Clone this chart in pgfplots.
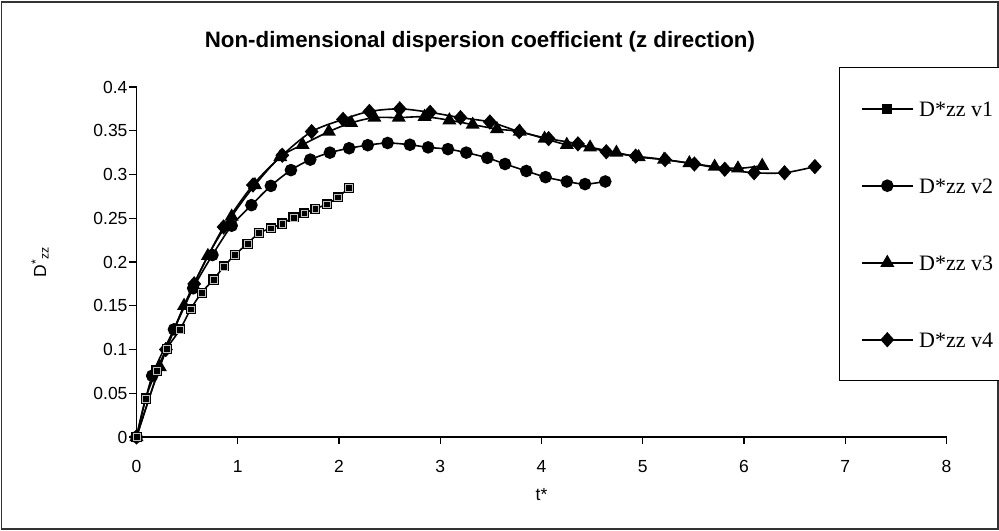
\documentclass[border=0pt]{standalone}
\usepackage{pgfplots}
\pgfplotsset{compat=1.18}
\usepackage{fontspec}
\setmainfont{Liberation Sans}
\newfontfamily\seriffont{Liberation Serif}

\pgfplotstableread{
x y
0 0
0.09 0.044
0.198 0.076
0.30 0.101
0.43 0.123
0.535 0.146
0.644 0.165
0.76 0.180
0.865 0.195
0.97 0.208
1.096 0.221
1.21 0.233
1.327 0.2385
1.44 0.244
1.55 0.251
1.656 0.2556
1.765 0.261
1.88 0.266
1.99 0.274
2.10 0.285
}\vone

\pgfplotstableread{
x y
0 0
0.155 0.070
0.37 0.123
0.56 0.170
0.75 0.208
0.94 0.2415
1.135 0.265
1.327 0.287
1.525 0.305
1.716 0.317
1.91 0.325
2.10 0.330
2.284 0.3335
2.48 0.336
2.70 0.334
2.88 0.331
3.076 0.329
3.257 0.325
3.465 0.319
3.64 0.312
3.85 0.304
4.04 0.297
4.25 0.292
4.43 0.289
4.63 0.292
}\vtwo

\pgfplotstableread{
x y
0 0
0.23 0.080
0.47 0.150
0.705 0.207
0.94 0.252
1.17 0.288
1.42 0.320
1.64 0.334
1.90 0.349
2.12 0.359
2.35 0.365
2.59 0.365
2.845 0.366
3.09 0.362
3.32 0.357
3.56 0.352
3.785 0.349
4.03 0.341
4.25 0.334
4.48 0.331
4.74 0.325
4.96 0.320
5.21 0.317
5.46 0.313
5.71 0.309
5.94 0.307
6.18 0.310
}\vthree

\pgfplotstableread{
x y
0 0
0.29 0.100
0.57 0.175
0.86 0.240
1.15 0.288
1.44 0.322
1.73 0.349
2.04 0.363
2.30 0.372
2.60 0.375
2.90 0.371
3.20 0.365
3.49 0.360
3.78 0.349
4.07 0.341
4.36 0.335
4.64 0.326
4.93 0.321
5.22 0.317
5.51 0.312
5.81 0.306
6.10 0.302
6.40 0.302
6.70 0.309
}\vfour

\begin{document}
\begin{tikzpicture}
\path[use as bounding box] (0,0) rectangle (999bp,531bp);
\draw[line width=1.2bp, black!80] (1.5bp,2bp) rectangle (998bp,529bp);
\begin{axis}[
  at={(136.5bp,94bp)}, anchor=south west,
  scale only axis, width=810bp, height=350bp,
  xmin=0, xmax=8, ymin=0, ymax=0.4,
  clip=false,
  axis x line*=bottom, axis y line*=left,
  axis line style={line width=1.2bp, black},
  xtick={0,1,2,3,4,5,6,7,8},
  xticklabels={0,1,2,3,4,5,6,7,8},
  ytick={0,0.05,0.1,0.15,0.2,0.25,0.3,0.35,0.4},
  yticklabels={0,0.05,0.1,0.15,0.2,0.25,0.3,0.35,0.4},
  tick align=outside, major tick length=7bp,
  tick style={line width=1.2bp, black},
  ticklabel style={font=\fontsize{17.5bp}{20bp}\selectfont},
  xticklabel style={yshift=-13bp},
  yticklabel style={xshift=1.5bp},
  /pgf/number format/assume math mode=true,
  title={Non-dimensional dispersion coefficient (z direction)},
  title style={font=\bfseries\fontsize{22.3bp}{26bp}\selectfont, at={(axis description cs:0.424,1.112)}, anchor=center},
  xlabel={t*},
  xlabel style={font=\fontsize{17.5bp}{20bp}\selectfont, at={(axis description cs:0.5,-0.1657)}, anchor=center},
  ylabel={D\textsuperscript{*}\textsubscript{zz}},
  ylabel style={font=\fontsize{17.5bp}{20bp}\selectfont, at={(axis description cs:-0.119,0.5)}, anchor=center},
  legend image code/.code={\draw[mark repeat=2,mark phase=2,#1] plot coordinates {(0bp,0bp) (25bp,0bp) (50bp,0bp)};},
  legend style={at={(axis description cs:0.8673,1.0571)}, anchor=north west, draw=black, line width=1bp, fill=white,
    inner xsep=22bp, inner ysep=32.5bp, row sep=59.6bp, column sep=6bp,
    nodes={inner sep=0pt, text height=16bp, text depth=1.4bp, font=\seriffont\fontsize{22bp}{26bp}\selectfont}},
  legend cell align=left,
  every axis plot/.append style={black, line width=1.6bp, smooth, tension=0.5},
]
\addplot[mark=square*, mark size=4.6bp, mark options={solid, fill=black, draw=black, line width=1bp}] table {\vone};
\addlegendentry{D*zz v1}
\addplot[mark=*, mark size=5.5bp, mark options={solid, fill=black}] table {\vtwo};
\addlegendentry{D*zz v2}
\addplot[mark=triangle*, mark size=6.5bp, mark options={solid, fill=black}] table {\vthree};
\addlegendentry{D*zz v3}
\addplot[mark=diamond*, mark size=6.5bp, mark options={solid, fill=black, xscale=1.2}] table {\vfour};
\addlegendentry{D*zz v4}
\addplot[forget plot, only marks, mark=square, mark size=3.4bp, mark options={draw=white!75!black, line width=0.5bp}] table {\vone};
\end{axis}
\end{tikzpicture}
\end{document}
